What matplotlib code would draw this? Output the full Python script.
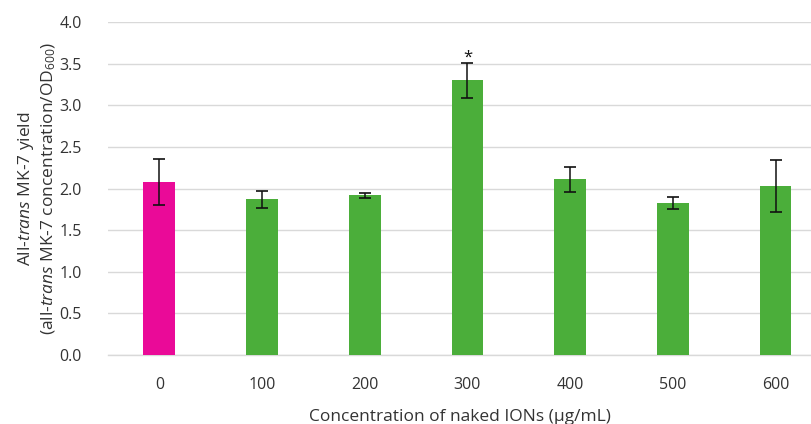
import matplotlib
matplotlib.use('Agg')

import matplotlib.pyplot as plt
import numpy as np

# Mean yield per ION concentration, with SD error bars
concentrations = ["0", "100", "200", "300", "400", "500", "600"]
yields = [2.08, 1.87, 1.92, 3.30, 2.11, 1.83, 2.03]
errors = [0.28, 0.10, 0.03, 0.21, 0.15, 0.07, 0.31]
significant = [False, False, False, True, False, False, False]
y_ticks = [0.0, 0.5, 1.0, 1.5, 2.0, 2.5, 3.0, 3.5, 4.0]

_FONT = "Open Sans"
_CONTROL = "#EA0A98"
_TREATED = "#4BAE3A"
_TEXT = "#333333"
_GRID = "#D9D9D9"

plt.rcParams["font.family"] = [_FONT, "DejaVu Sans"]
plt.rcParams["mathtext.fontset"] = "custom"
plt.rcParams["mathtext.rm"] = _FONT
plt.rcParams["mathtext.it"] = _FONT + ":italic"

fig = plt.figure(figsize=(8.11, 4.24), dpi=100)
ax = fig.add_axes([0.1332, 0.1627, 0.8668, 0.7853])

x = np.arange(len(concentrations))
colors = [_CONTROL] + [_TREATED] * (len(concentrations) - 1)
ax.bar(x, yields, width=0.31, color=colors, zorder=3)
ax.errorbar(x, yields, yerr=errors, fmt="none", ecolor="#111111",
            elinewidth=1.1, capsize=4.5, capthick=1.2, zorder=4)

for xi, yi, ei, sig in zip(x, yields, errors, significant):
    if sig:
        ax.text(xi, yi + ei - 0.03, "*", ha="center", va="bottom",
                fontsize=12, color="#111111")

ax.set_xlim(-0.5, 6.345)
ax.set_ylim(0, 4.0)
ax.set_yticks(y_ticks)
ax.set_yticklabels([f"{v:.1f}" for v in y_ticks])
ax.set_xticks(x)
ax.set_xticklabels(concentrations)
ax.tick_params(length=0, labelsize=11.5, colors=_TEXT)
ax.tick_params(axis="y", pad=19)
ax.tick_params(axis="x", pad=16)

ax.yaxis.grid(True, color=_GRID, linewidth=1.0, zorder=0)
ax.set_axisbelow(True)
for name, spine in ax.spines.items():
    if name == "bottom":
        spine.set_color(_GRID)
        spine.set_linewidth(1.0)
    else:
        spine.set_visible(False)

ax.set_xlabel("Concentration of naked IONs (μg/mL)", fontsize=12.5,
              color=_TEXT, labelpad=11)
ax.set_ylabel("All-$\\it{trans}$ MK-7 yield\n"
              "(all-$\\it{trans}$ MK-7 concentration/OD$_{600}$)",
              fontsize=12.5, color=_TEXT, labelpad=1, linespacing=1.25)

fig.savefig("out.png", dpi=100, facecolor="white")
